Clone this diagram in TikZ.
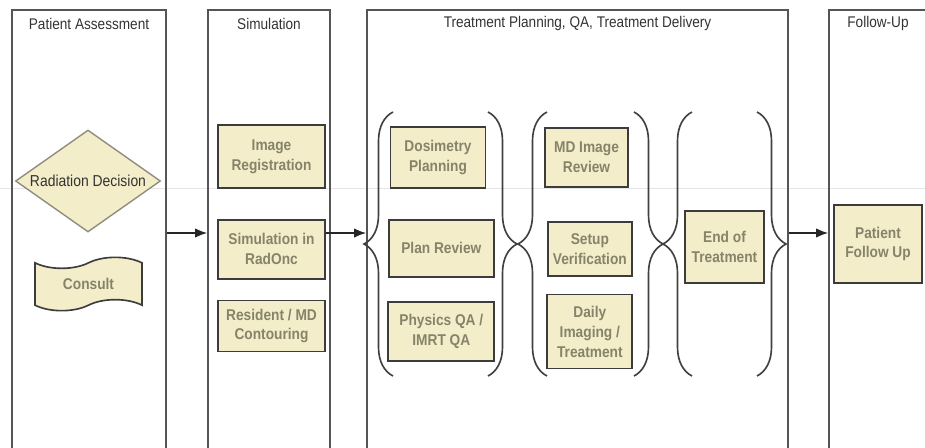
\documentclass[tikz,border=0pt]{standalone}
\usepackage{fontspec}
\setmainfont{Liberation Sans}[FakeStretch=0.88]
\usetikzlibrary{arrows.meta, positioning, shapes.geometric, shapes.symbols, decorations.pathreplacing}
\definecolor{cream}{HTML}{F3EDC9}
\definecolor{olivegray}{HTML}{86836A}
\definecolor{boxline}{HTML}{3C3C3C}
\definecolor{laneline}{HTML}{555555}
\definecolor{decline}{HTML}{8F8E7E}
\def\StepColor{cream}
\def\StepText{olivegray}

\begin{document}
\begin{tikzpicture} [x=0.03cm, y=-0.03cm,
  lane/.style = {draw=laneline, line width=1.3pt, anchor=north, minimum height=14cm, inner sep=0},
  head/.style = {text=black!80, font=\fontsize{13.2}{14}\selectfont},
     S/.style = {draw=boxline, line width=1.5pt, fill=\StepColor, text=\StepText, align=center,
                 inner sep=0, font=\fontsize{13.3}{17}\selectfont\bfseries},
   dec/.style = {diamond, aspect=1.42, draw=decline, line width=1.2pt, fill=\StepColor, inner sep=0,
                 text=black!80, font=\fontsize{13.5}{14}\selectfont},
    br/.style = {draw=black!75, line width=1.4pt, decorate, decoration={brace, amplitude=0.87cm}},
    every edge/.style={draw, -{Latex[length=3.6mm,width=2.8mm]}, line width=1.4pt, black!85}
]
  \clip (0,0) rectangle (925,447);
  % faint guide across the page
  \draw[black!10, line width=0.6pt] (0,188) -- (925,188);

  % Lanes
  \node[lane, minimum width=4.62cm]  (assess) at (89,9)    {};
  \node[lane, minimum width=3.66cm]  (sim)    at (269,9)   {};
  \node[lane, minimum width=12.63cm] (treat)  at (577.5,9) {};
  \node[lane, minimum width=2.94cm]  (follow) at (878,9)   {};

  \node[head] (assesshead) at ([yshift=-4.5mm]assess.north) {Patient Assessment};
  \node[head] (simhead)    at ([yshift=-4.5mm]sim.north)    {Simulation};
  \node[head] (treathead)  at ([yshift=-4.5mm]treat.north)  {Treatment Planning, QA, Treatment Delivery};
  \node[head] (followhead) at ([yshift=-4.5mm]follow.north) {Follow-Up};

  % PATIENT ASSESSMENT
  \node[dec, minimum width=4.35cm, minimum height=3.06cm] (raddec) at (88,181) {Radiation Decision};
  \node[tape, draw=boxline, line width=1.4pt, fill=\StepColor, text=\StepText, inner sep=0,
        font=\fontsize{13.3}{17}\selectfont\bfseries, minimum width=3.21cm, minimum height=1.6cm,
        tape bend height=0.33cm] (consult) at (88.5,284) {Consult};

  % SIMULATION
  \node[S, minimum width=3.21cm, minimum height=1.89cm] (imgreg) at (271.5,156.5) {Image\\Registration};
  \node[S, minimum width=3.21cm, minimum height=1.77cm] (simrad)  [below=9mm of imgreg] {Simulation in\\RadOnc};
  \node[S, minimum width=3.21cm, minimum height=1.53cm] (contour) [below=6mm of simrad] {Resident / MD\\Contouring};

  % PLANNING / QA / DELIVERY
  \node[S, minimum width=2.85cm, minimum height=1.83cm] (dosim) at (438,157.5) {Dosimetry\\Planning};
  \node[S, minimum width=3.15cm, minimum height=1.71cm] (planrev) [below=9mm of dosim, xshift=1mm] {Plan Review};
  \node[S, minimum width=3.18cm, minimum height=1.77cm] (physqa)  [below=7mm of planrev] {Physics QA /\\IMRT QA};

  \node[S, minimum width=2.49cm, minimum height=1.77cm] (mdrev) at (586.5,157.5) {MD Image\\Review};
  \node[S, minimum width=2.52cm, minimum height=1.62cm] (setup) [below=10mm of mdrev, xshift=1mm] {Setup\\Verification};
  \node[S, minimum width=2.55cm, minimum height=2.22cm] (daily) [below=5mm of setup] {Daily\\Imaging /\\Treatment};

  \node[S, minimum width=2.37cm, minimum height=2.16cm] (eot) at (724.5,247) {End of\\Treatment};

  % braces round each group
  \draw[br] (393,376) -- (393,112);
  \draw[br] (488,112) -- (488,376);
  \draw[br] (547,376) -- (547,112);
  \draw[br] (634,112) -- (634,376);
  \draw[br] (692,376) -- (692,112);
  \draw[br] (757,112) -- (757,376);

  % FOLLOW-UP
  \node[S, minimum width=2.64cm, minimum height=2.34cm] (ptfu) at (878,244) {Patient\\Follow Up};

  % Edges
  \coordinate (flowy) at (0,233);
  \path (assess.east |- flowy) edge (sim.west |- flowy);
  \path (simrad.east |- flowy) edge (treat.west |- flowy);
  \path (treat.east |- flowy)  edge (follow.west |- flowy);
\end{tikzpicture}
\end{document}
